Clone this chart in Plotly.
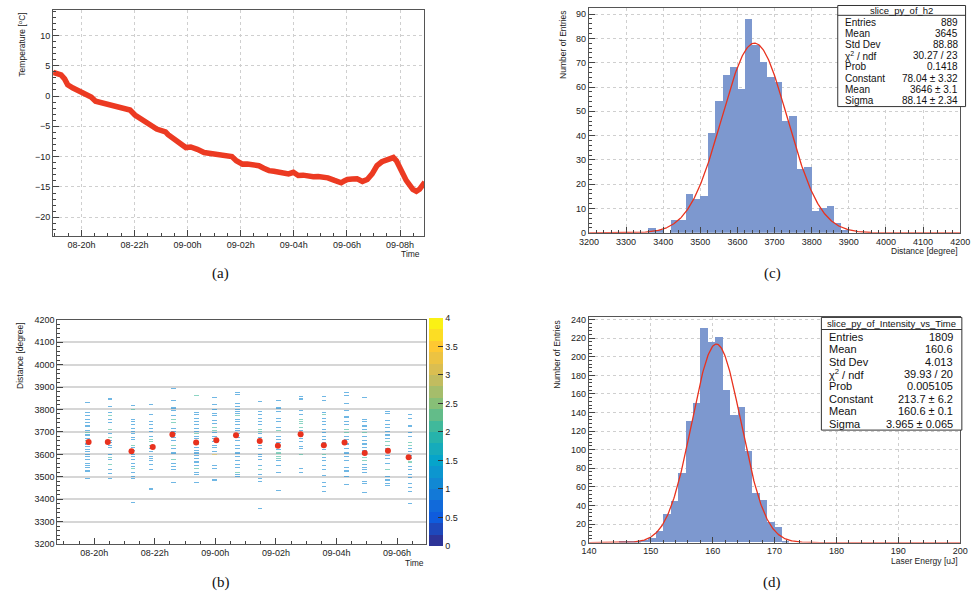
import numpy as np
import pandas as pd
import plotly.graph_objects as go

W, H = 979, 601


def PX(x):
    return x / W


def PY(y):
    return 1 - y / H


# ---------------- (a) temperature vs time ----------------
temp_time = [
    "2019-09-08 18:56", "2019-09-08 19:05", "2019-09-08 19:14", "2019-09-08 19:22",
    "2019-09-08 19:29", "2019-09-08 19:41", "2019-09-08 19:56", "2019-09-08 20:03",
    "2019-09-08 20:10", "2019-09-08 20:22", "2019-09-08 20:32", "2019-09-08 20:40",
    "2019-09-08 20:47", "2019-09-08 20:56", "2019-09-08 21:06", "2019-09-08 21:13",
    "2019-09-08 21:20", "2019-09-08 21:28", "2019-09-08 21:35", "2019-09-08 21:43",
    "2019-09-08 21:50", "2019-09-08 22:01", "2019-09-08 22:10", "2019-09-08 22:20",
    "2019-09-08 22:28", "2019-09-08 22:35", "2019-09-08 22:43", "2019-09-08 22:50",
    "2019-09-08 23:04", "2019-09-08 23:10", "2019-09-08 23:16", "2019-09-08 23:30",
    "2019-09-08 23:38", "2019-09-08 23:45", "2019-09-08 23:56", "2019-09-09 00:07",
    "2019-09-09 00:15", "2019-09-09 00:22", "2019-09-09 00:37", "2019-09-09 00:45",
    "2019-09-09 00:52", "2019-09-09 01:00", "2019-09-09 01:07", "2019-09-09 01:15",
    "2019-09-09 01:22", "2019-09-09 01:30", "2019-09-09 01:40", "2019-09-09 01:50",
    "2019-09-09 02:04", "2019-09-09 02:15", "2019-09-09 02:26", "2019-09-09 02:41",
    "2019-09-09 02:52", "2019-09-09 03:04", "2019-09-09 03:15", "2019-09-09 03:26",
    "2019-09-09 03:37", "2019-09-09 03:48", "2019-09-09 03:59", "2019-09-09 04:10",
    "2019-09-09 04:21", "2019-09-09 04:32", "2019-09-09 04:44", "2019-09-09 04:55",
    "2019-09-09 05:06", "2019-09-09 05:17", "2019-09-09 05:32", "2019-09-09 05:47",
    "2019-09-09 05:54", "2019-09-09 06:01", "2019-09-09 06:12", "2019-09-09 06:23",
    "2019-09-09 06:35", "2019-09-09 06:46", "2019-09-09 06:57", "2019-09-09 07:08",
    "2019-09-09 07:19", "2019-09-09 07:34", "2019-09-09 07:45", "2019-09-09 07:52",
    "2019-09-09 08:04", "2019-09-09 08:14", "2019-09-09 08:29", "2019-09-09 08:37",
    "2019-09-09 08:44", "2019-09-09 08:56",
]
temp_value = [
    3.9, 3.7, 3.47, 2.82,
    1.85, 1.31, 0.76, 0.5,
    0.39, -0.15, -0.86, -1.0,
    -1.23, -1.35, -1.5, -1.6,
    -1.93, -1.95, -2.15, -2.2,
    -2.32, -3.13, -3.5, -4.1,
    -4.3, -4.64, -5.1, -5.45,
    -5.82, -5.9, -6.37, -7.18,
    -7.5, -8.09, -8.5, -8.4,
    -8.5, -8.8, -9.33, -9.4,
    -9.6, -9.5, -9.7, -9.8,
    -9.87, -9.9, -9.98, -10.68,
    -11.23, -11.2, -11.33, -11.49,
    -11.9, -12.3, -12.4, -12.58,
    -12.7, -12.85, -12.58, -13.1,
    -13.05, -13.2, -13.3, -13.27,
    -13.4, -13.5, -13.92, -14.31,
    -14.0, -13.76, -13.7, -13.66,
    -14.08, -13.76, -12.85, -11.49,
    -10.84, -10.31, -10.15, -10.68,
    -12.3, -13.92, -15.38, -15.71,
    -15.38, -14.2,
]

# ---------------- (c) distance histogram ----------------
dist_first_bin = 3360
dist_bin_width = 20
dist_counts = [2, 1, 0, 5, 5, 16, 14, 15, 41, 54, 65, 68, 59, 88, 77, 70, 64, 62,
               46, 48, 26, 27, 9, 10, 11, 4, 1]
dist_fit = {"const": 78.04, "mean": 3646, "sigma": 88.14}
dist_stats_title = "slice_py_of_h2"
dist_stats_labels = ["Entries", "Mean", "Std Dev", "χ<sup>2</sup> / ndf", "Prob",
                     "Constant", "Mean", "Sigma"]
dist_stats_values = ["889", "3645", "88.88", "30.27 / 23", "0.1418",
                     "78.04 ± 3.32", "3646 ± 3.1", "88.14 ± 2.34"]

# ---------------- (d) laser energy histogram ----------------
en_first_bin = 144.8
en_bin_width = 1.2
en_counts = [1, 1, 2, 3, 5, 12, 31, 45, 75, 131, 150, 231, 216, 221, 164, 137,
             146, 98, 53, 46, 22, 17, 2]
en_fit = {"const": 213.7, "mean": 160.6, "sigma": 3.965}
en_stats_title = "slice_py_of_Intensity_vs_Time"
en_stats_labels = ["Entries", "Mean", "Std Dev", "χ<sup>2</sup> / ndf", "Prob",
                   "Constant", "Mean", "Sigma"]
en_stats_values = ["1809", "160.6", "4.013", "39.93 / 20", "0.005105",
                   "213.7 ± 6.2", "160.6 ± 0.1", "3.965 ± 0.065"]

# ---------------- (b) distance vs time (2D) ----------------
col_time = [
    "2019-09-08 19:49", "2019-09-08 20:27", "2019-09-08 21:14", "2019-09-08 21:56",
    "2019-09-08 22:35", "2019-09-08 23:22", "2019-09-09 00:02", "2019-09-09 00:41",
    "2019-09-09 01:28", "2019-09-09 02:04", "2019-09-09 02:49", "2019-09-09 03:35",
    "2019-09-09 04:16", "2019-09-09 04:56", "2019-09-09 05:42", "2019-09-09 06:23",
]
col_mean = [3655, 3655, 3614, 3633, 3688, 3653, 3663, 3685,
            3660, 3638, 3690, 3641, 3653, 3606, 3616, 3587]
col_y = [
    [3830, 3785, 3770, 3755, 3740, 3725, 3705, 3695, 3685, 3670, 3660, 3645, 3635, 3620, 3610, 3600, 3590, 3575, 3560, 3550, 3540, 3525, 3490],
    [3845, 3810, 3785, 3770, 3755, 3740, 3710, 3690, 3675, 3660, 3650, 3640, 3630, 3600, 3585, 3575, 3555, 3530, 3515, 3490],
    [3815, 3800, 3755, 3745, 3730, 3715, 3700, 3690, 3675, 3665, 3640, 3630, 3615, 3600, 3590, 3575, 3560, 3545, 3535, 3520, 3500, 3490, 3385],
    [3820, 3775, 3745, 3730, 3715, 3700, 3680, 3665, 3655, 3640, 3625, 3610, 3590, 3580, 3570, 3555, 3530, 3445],
    [3890, 3840, 3805, 3795, 3770, 3755, 3740, 3715, 3700, 3690, 3675, 3660, 3640, 3625, 3605, 3575, 3560, 3545, 3530, 3475],
    [3860, 3785, 3775, 3760, 3745, 3730, 3715, 3700, 3690, 3680, 3670, 3655, 3645, 3630, 3615, 3605, 3595, 3580, 3565, 3550, 3535, 3520, 3510, 3475],
    [3850, 3820, 3800, 3780, 3770, 3750, 3735, 3720, 3705, 3695, 3680, 3670, 3655, 3640, 3630, 3610, 3600, 3550, 3535, 3485],
    [3875, 3865, 3825, 3810, 3800, 3790, 3780, 3770, 3755, 3745, 3730, 3715, 3705, 3690, 3675, 3660, 3640, 3625, 3605, 3590, 3570, 3555, 3540, 3520, 3510, 3500],
    [3835, 3790, 3775, 3760, 3745, 3730, 3710, 3700, 3690, 3675, 3660, 3640, 3625, 3600, 3590, 3575, 3550, 3530, 3510, 3490, 3480, 3360],
    [3840, 3805, 3790, 3760, 3745, 3720, 3705, 3680, 3665, 3650, 3640, 3620, 3605, 3590, 3580, 3570, 3550, 3520, 3440],
    [3855, 3845, 3795, 3775, 3755, 3745, 3735, 3720, 3705, 3690, 3680, 3670, 3655, 3635, 3625, 3600, 3535, 3520],
    [3855, 3840, 3785, 3775, 3760, 3745, 3730, 3710, 3695, 3680, 3665, 3650, 3635, 3620, 3600, 3585, 3570, 3550, 3530, 3505, 3475, 3455, 3435],
    [3875, 3860, 3825, 3795, 3765, 3745, 3730, 3710, 3695, 3680, 3665, 3645, 3625, 3605, 3590, 3570, 3540, 3525, 3500, 3465],
    [3850, 3755, 3745, 3725, 3710, 3695, 3680, 3660, 3645, 3630, 3615, 3600, 3585, 3570, 3555, 3540, 3530, 3520, 3480, 3470, 3430],
    [3790, 3780, 3750, 3730, 3720, 3700, 3685, 3670, 3655, 3640, 3625, 3610, 3595, 3580, 3560, 3530, 3500, 3485, 3470, 3460],
    [3775, 3760, 3725, 3695, 3680, 3650, 3640, 3625, 3610, 3595, 3580, 3565, 3545, 3530, 3510, 3495, 3470, 3450, 3435, 3380],
]
col_n = [
    [1, 1, 1, 1, 1, 1, 1, 2, 1, 1, 2, 1, 1, 1, 1, 1, 1, 1, 1, 1, 1, 1, 1],
    [1, 1, 1, 2, 1, 1, 2, 1, 2, 1, 1, 1, 1, 1, 2, 1, 2, 1, 1, 1],
    [1, 2, 1, 1, 1, 1, 1, 1, 1, 1, 2, 1, 1, 1, 1, 1, 1, 1, 2, 1, 1, 1, 1],
    [1, 1, 1, 1, 1, 1, 1, 2, 2, 2, 1, 1, 1, 1, 1, 1, 1, 1],
    [1, 1, 1, 1, 1, 2, 2, 1, 1, 1, 1, 1, 2, 1, 1, 2, 1, 1, 1, 1],
    [2, 1, 1, 1, 1, 1, 1, 1, 2, 1, 1, 1, 2, 1, 1, 1, 1, 1, 1, 1, 2, 1, 1, 1],
    [1, 1, 1, 1, 1, 1, 1, 2, 2, 1, 1, 1, 1, 1, 1, 1, 3, 1, 1, 1],
    [1, 1, 1, 1, 1, 1, 1, 2, 1, 1, 1, 1, 1, 1, 1, 1, 1, 1, 1, 1, 1, 1, 1, 2, 1, 1],
    [1, 1, 1, 1, 1, 1, 2, 2, 1, 1, 1, 1, 1, 1, 1, 1, 1, 2, 1, 1, 1, 1],
    [1, 1, 1, 1, 1, 1, 2, 1, 1, 1, 1, 1, 2, 2, 2, 1, 1, 1, 1],
    [1, 1, 1, 1, 2, 2, 2, 2, 1, 1, 1, 1, 1, 1, 1, 2, 1, 1],
    [1, 1, 1, 2, 1, 1, 1, 1, 1, 1, 1, 1, 1, 1, 2, 1, 1, 1, 1, 1, 1, 1, 1],
    [1, 1, 1, 1, 1, 1, 1, 2, 2, 1, 1, 1, 1, 1, 1, 1, 1, 1, 1, 1],
    [1, 1, 1, 1, 1, 2, 1, 1, 1, 1, 1, 1, 2, 2, 1, 1, 1, 1, 1, 1, 1],
    [1, 1, 1, 1, 1, 1, 1, 1, 2, 2, 1, 3, 1, 1, 1, 2, 1, 1, 1, 1],
    [1, 1, 1, 1, 1, 2, 2, 1, 1, 1, 1, 2, 1, 1, 1, 1, 1, 1, 1, 1],
]
z_ticks = [0, 0.5, 1, 1.5, 2, 2.5, 3, 3.5, 4]

# ---------------- build figure ----------------
FONT = "Liberation Sans"
RED = "#e8321e"
BAR = "#7d98cf"
fig = go.Figure()

# (a)
fig.add_trace(go.Scatter(
    x=pd.to_datetime(temp_time), y=temp_value, mode="lines",
    line=dict(color="#ec3a22", width=5.5), xaxis="x", yaxis="y", showlegend=False))

# (c)
d_centers = dist_first_bin + dist_bin_width * (np.arange(len(dist_counts)) + 0.5)
fig.add_trace(go.Bar(x=d_centers, y=dist_counts, width=dist_bin_width,
                     marker=dict(color=BAR, line=dict(width=0)),
                     xaxis="x2", yaxis="y2", showlegend=False))
xs = np.linspace(3200, 4200, 600)
fig.add_trace(go.Scatter(
    x=xs, y=dist_fit["const"] * np.exp(-0.5 * ((xs - dist_fit["mean"]) / dist_fit["sigma"]) ** 2),
    mode="lines", line=dict(color=RED, width=1.3), xaxis="x2", yaxis="y2", showlegend=False))

# (d)
e_centers = en_first_bin + en_bin_width * (np.arange(len(en_counts)) + 0.5)
fig.add_trace(go.Bar(x=e_centers, y=en_counts, width=en_bin_width,
                     marker=dict(color=BAR, line=dict(width=0)),
                     xaxis="x4", yaxis="y4", showlegend=False))
xe = np.linspace(140, 200, 600)
fig.add_trace(go.Scatter(
    x=xe, y=en_fit["const"] * np.exp(-0.5 * ((xe - en_fit["mean"]) / en_fit["sigma"]) ** 2),
    mode="lines", line=dict(color=RED, width=1.3), xaxis="x4", yaxis="y4", showlegend=False))

# (b) 2D histogram drawn as heatmap
t0 = pd.Timestamp("2019-09-08 18:30")
tb = pd.Timedelta(minutes=9)
nx = 86
x_centers = [t0 + tb * (i + 0.5) for i in range(nx)]
ybw = 5
ny = 200
y_centers = 3200 + ybw * (np.arange(ny) + 0.5)
z = np.full((ny, nx), np.nan)
for t, ys, ns in zip(col_time, col_y, col_n):
    xi = int((pd.Timestamp(t) - t0) / tb)
    for yv, nv in zip(ys, ns):
        yi = int((yv - 3200) // ybw)
        z[yi, xi] = (0 if np.isnan(z[yi, xi]) else z[yi, xi]) + nv

bird_pos = [0.0, 0.125, 0.25, 0.375, 0.5, 0.625, 0.75, 0.875, 1.0]
bird_r = [0.2082, 0.0592, 0.0780, 0.0232, 0.1802, 0.5301, 0.8186, 0.9956, 0.9764]
bird_g = [0.1664, 0.3599, 0.5041, 0.6419, 0.7178, 0.7492, 0.7328, 0.7862, 0.9832]
bird_b = [0.5293, 0.8684, 0.8385, 0.7914, 0.6425, 0.4662, 0.3499, 0.1968, 0.0539]
nlev = 20
cscale = []
for i in range(nlev):
    f = (i + 0.5) / nlev
    r = np.interp(f, bird_pos, bird_r) * 255
    g = np.interp(f, bird_pos, bird_g) * 255
    b = np.interp(f, bird_pos, bird_b) * 255
    c = f"rgb({r:.0f},{g:.0f},{b:.0f})"
    cscale.append([i / nlev, c])
    cscale.append([(i + 1) / nlev, c])

fig.add_trace(go.Heatmap(
    x=x_centers, y=y_centers, z=z, zmin=0, zmax=4, colorscale=cscale,
    opacity=0.6, hoverongaps=False, xaxis="x3", yaxis="y3",
    colorbar=dict(thickness=14, thicknessmode="pixels", len=228.3, lenmode="pixels",
                  x=PX(428), xanchor="left", y=PY(434.15), yanchor="middle",
                  xpad=0, ypad=0, outlinewidth=0, tickvals=z_ticks,
                  ticktext=[f"{v:g}" for v in z_ticks], ticks="inside", ticklen=5,
                  tickcolor="#333", tickfont=dict(family=FONT, size=9, color="#222"))))
fig.add_trace(go.Scatter(
    x=pd.to_datetime(col_time), y=col_mean, mode="markers",
    marker=dict(color=RED, size=6), xaxis="x3", yaxis="y3", showlegend=False))

# ---------------- axes ----------------
tickfont = dict(family=FONT, size=9, color="#222")
common = dict(showline=True, mirror=True, linecolor="#555", linewidth=1,
              ticks="inside", tickcolor="#444", ticklen=6, tickfont=tickfont,
              zeroline=False, showgrid=True, gridcolor="#cfcfcf", griddash="dot",
              gridwidth=1)
HOUR = 3600 * 1000

fig.update_layout(
    width=W, height=H, margin=dict(l=0, r=0, t=0, b=0),
    paper_bgcolor="white", plot_bgcolor="white", bargap=0,
    font=dict(family=FONT, color="#222"),
    xaxis=dict(domain=[PX(44), PX(423)], anchor="y", type="date",
               range=["2019-09-08 18:56", "2019-09-09 08:55"],
               tickformat="%d-%Hh", dtick=2 * HOUR, tick0="2019-09-08 00:00",
               minor=dict(dtick=HOUR / 2, ticks="inside", ticklen=3, tickcolor="#444",
                          showgrid=False),
               **common),
    yaxis=dict(domain=[PY(235), PY(5)], anchor="x", range=[-23.1, 14.2], dtick=5,
               minor=dict(dtick=1, ticks="inside", ticklen=3, tickcolor="#444",
                          showgrid=False),
               **common),
    xaxis2=dict(domain=[PX(591), PX(970)], anchor="y2", range=[3200, 4200], dtick=100,
                minor=dict(dtick=20, ticks="inside", ticklen=3, tickcolor="#444",
                           showgrid=False),
                **common),
    yaxis2=dict(domain=[PY(231.7), PY(3.3)], anchor="x2", range=[0, 92.4], dtick=10,
                minor=dict(dtick=2, ticks="inside", ticklen=3, tickcolor="#444",
                           showgrid=False),
                **common),
    xaxis3=dict(domain=[PX(48.3), PX(425)], anchor="y3", type="date",
                range=["2019-09-08 18:47", "2019-09-09 06:58"],
                tickformat="%d-%Hh", dtick=2 * HOUR, tick0="2019-09-08 00:00",
                minor=dict(dtick=HOUR / 2, ticks="inside", ticklen=3, tickcolor="#444",
                           showgrid=False),
                **{**common, "showgrid": False}),
    yaxis3=dict(domain=[PY(548.3), PY(320)], anchor="x3", range=[3200, 4200], dtick=100,
                minor=dict(dtick=20, ticks="inside", ticklen=3, tickcolor="#444",
                           showgrid=False),
                **{**common, "griddash": "solid", "gridcolor": "#d6d6d6", "gridwidth": 1.5}),
    xaxis4=dict(domain=[PX(591), PX(970)], anchor="y4", range=[140, 200], dtick=10,
                minor=dict(dtick=2, ticks="inside", ticklen=3, tickcolor="#444",
                           showgrid=False),
                **common),
    yaxis4=dict(domain=[PY(546.7), PY(317.5)], anchor="x4", range=[0, 242.6], dtick=20,
                minor=dict(dtick=4, ticks="inside", ticklen=3, tickcolor="#444",
                           showgrid=False),
                **common),
)

# ---------------- annotations: axis titles, captions, stats boxes ----------------
ann = []
tf = dict(family=FONT, size=8.5, color="#222")


def A(text, x, y, xa="center", ya="middle", angle=0, font=tf):
    ann.append(dict(text=text, x=PX(x), y=PY(y), xref="paper", yref="paper",
                    xanchor=xa, yanchor=ya, showarrow=False, textangle=angle, font=font))


A("Temperature [<sup>o</sup>C]", 13, 6, ya="top", angle=-90)
A("Time", 421, 253, xa="right")
A("Number of Entries", 565, 3, ya="top", angle=-90)
A("Distance [degree]", 970, 250.5, xa="right")
A("Distance [degree]", 10, 320, ya="top", angle=-90)
A("Time", 425, 567, xa="right")
A("Number of Entries", 559, 318, ya="top", angle=-90)
A("Laser Energy [uJ]", 970, 565.5, xa="right")

capfont = dict(family="Liberation Serif", size=15, color="#111")
A("(a)", 215, 273, font=capfont)
A("(c)", 778, 273, font=capfont)
A("(b)", 215, 587, font=capfont)
A("(d)", 778, 587, font=capfont)

shapes = []


def stats_box(x0, x1, y0, y1, ydiv, title, ytitle, labels, values, yrows, lx, rx, fs, tfs):
    shapes.append(dict(type="rect", xref="paper", yref="paper", x0=PX(x0), x1=PX(x1),
                       y0=PY(y1), y1=PY(y0), fillcolor="white",
                       line=dict(color="#333", width=1), layer="above"))
    shapes.append(dict(type="line", xref="paper", yref="paper", x0=PX(x0), x1=PX(x1),
                       y0=PY(ydiv), y1=PY(ydiv), line=dict(color="#333", width=1),
                       layer="above"))
    f = dict(family=FONT, size=fs, color="#111")
    A(title, (x0 + x1) / 2, ytitle, font=dict(family=FONT, size=tfs, color="#111"))
    for lab, val, yy in zip(labels, values, yrows):
        A(lab, lx, yy, xa="left", font=f)
        A(val, rx, yy, xa="right", font=f)


stats_box(845, 975.5, 0.5, 103.3, 10.5, dist_stats_title, 5.5,
          dist_stats_labels, dist_stats_values,
          [17.3 + 11.43 * i for i in range(8)], 850.5, 970, 10, 9.5)
stats_box(828.3, 971.7, 317.7, 432.3, 330, en_stats_title, 323.8,
          en_stats_labels, en_stats_values,
          [337.3 + 12.63 * i for i in range(8)], 834, 965, 11, 9.5)

fig.update_layout(annotations=ann, shapes=shapes)

fig.write_html("out.html", config={"displayModeBar": False},
               post_script="document.body.style.margin='0';document.body.style.overflow='hidden';")
